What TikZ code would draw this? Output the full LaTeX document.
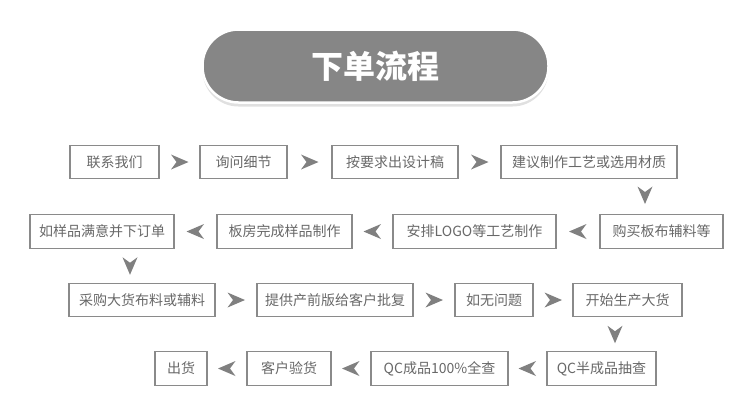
\documentclass[tikz,border=0pt]{standalone}
\usepackage{fontspec}
\setmainfont{Noto Sans CJK SC}
\usetikzlibrary{calc,shadows}
\definecolor{boxline}{HTML}{8A8A8A}
\definecolor{txtgray}{HTML}{686868}
\definecolor{arrowgray}{HTML}{808080}
\definecolor{pillgray}{HTML}{868686}
\begin{document}
\begin{tikzpicture}[x=1pt,y=-1pt,
  stepbox/.style={draw=boxline, line width=1.2pt, text=txtgray,
    font=\fontsize{14}{16}\selectfont, inner sep=0pt, minimum height=33.5pt},
  pill/.style={fill=pillgray, draw=white, line width=2.5pt, rounded corners=36pt,
    minimum width=346pt, minimum height=73pt, text=white,
    font=\fontsize{32}{36}\selectfont\bfseries,
    drop shadow={shadow xshift=0pt, shadow yshift=-4pt, opacity=0.2, fill=black!60}},
  tri/.pic={\fill[arrowgray] (9,0) -- (-8.5,-7.5) -- (-3,0) -- (-8.5,7.5) -- cycle;}]
\useasboundingbox (0,0) rectangle (750,413);
\fill[white] (0,0) rectangle (750,413);

\node[pill] (title) at (375.5,66) {下单流程};

% row 1
\node[stepbox, minimum width=89pt]  (a1) at (114.5,162) {联系我们};
\node[stepbox, minimum width=87pt]  (a2) at (243.5,162) {询问细节};
\node[stepbox, minimum width=126pt] (a3) at (395,162)   {按要求出设计稿};
\node[stepbox, minimum width=176pt] (a4) at (589,162)   {建议制作工艺或选用材质};
% row 2
\node[stepbox, minimum width=144pt] (b1) at (102,231.5)   {如样品满意并下订单};
\node[stepbox, minimum width=135pt] (b2) at (284.5,231.5) {板房完成样品制作};
\node[stepbox, minimum width=163pt] (b3) at (474.5,231.5) {安排LOGO等工艺制作};
\node[stepbox, minimum width=123pt] (b4) at (661.5,231.5) {购买板布辅料等};
% row 3
\node[stepbox, minimum width=146pt] (c1) at (142,300)   {采购大货布料或辅料};
\node[stepbox, minimum width=156pt] (c2) at (335,300)   {提供产前版给客户批复};
\node[stepbox, minimum width=78pt]  (c3) at (494,300)   {如无问题};
\node[stepbox, minimum width=109pt] (c4) at (627.5,300) {开始生产大货};
% row 4
\node[stepbox, minimum width=52pt]  (d1) at (181,368.5)   {出货};
\node[stepbox, minimum width=84pt]  (d2) at (289,368.5)   {客户验货};
\node[stepbox, minimum width=137pt] (d3) at (439.5,368.5) {QC成品100\%全查};
\node[stepbox, minimum width=109pt] (d4) at (601.5,368.5) {QC半成品抽查};

% arrows
\path (a1.east) -- pic[pos=.5]{tri} (a2.west);
\path (a2.east) -- pic[pos=.5]{tri} (a3.west);
\path (a3.east) -- pic[pos=.5]{tri} (a4.west);
\path (a4.south -| 645,0) -- pic[pos=.45, rotate=-90]{tri} (b4.north -| 645,0);
\path (b4.west) -- pic[pos=.5, rotate=180]{tri} (b3.east);
\path (b3.west) -- pic[pos=.5, rotate=180]{tri} (b2.east);
\path (b2.west) -- pic[pos=.5, rotate=180]{tri} (b1.east);
\path (b1.south -| 130,0) -- pic[pos=.5, rotate=-90]{tri} (c1.north -| 130,0);
\path (c1.east) -- pic[pos=.5]{tri} (c2.west);
\path (c2.east) -- pic[pos=.5]{tri} (c3.west);
\path (c3.east) -- pic[pos=.5]{tri} (c4.west);
\path (c4.south -| 615,0) -- pic[pos=.5, rotate=-90]{tri} (d4.north -| 615,0);
\path (d4.west) -- pic[pos=.5, rotate=180]{tri} (d3.east);
\path (d3.west) -- pic[pos=.5, rotate=180]{tri} (d2.east);
\path (d2.west) -- pic[pos=.5, rotate=180]{tri} (d1.east);
\end{tikzpicture}
\end{document}
